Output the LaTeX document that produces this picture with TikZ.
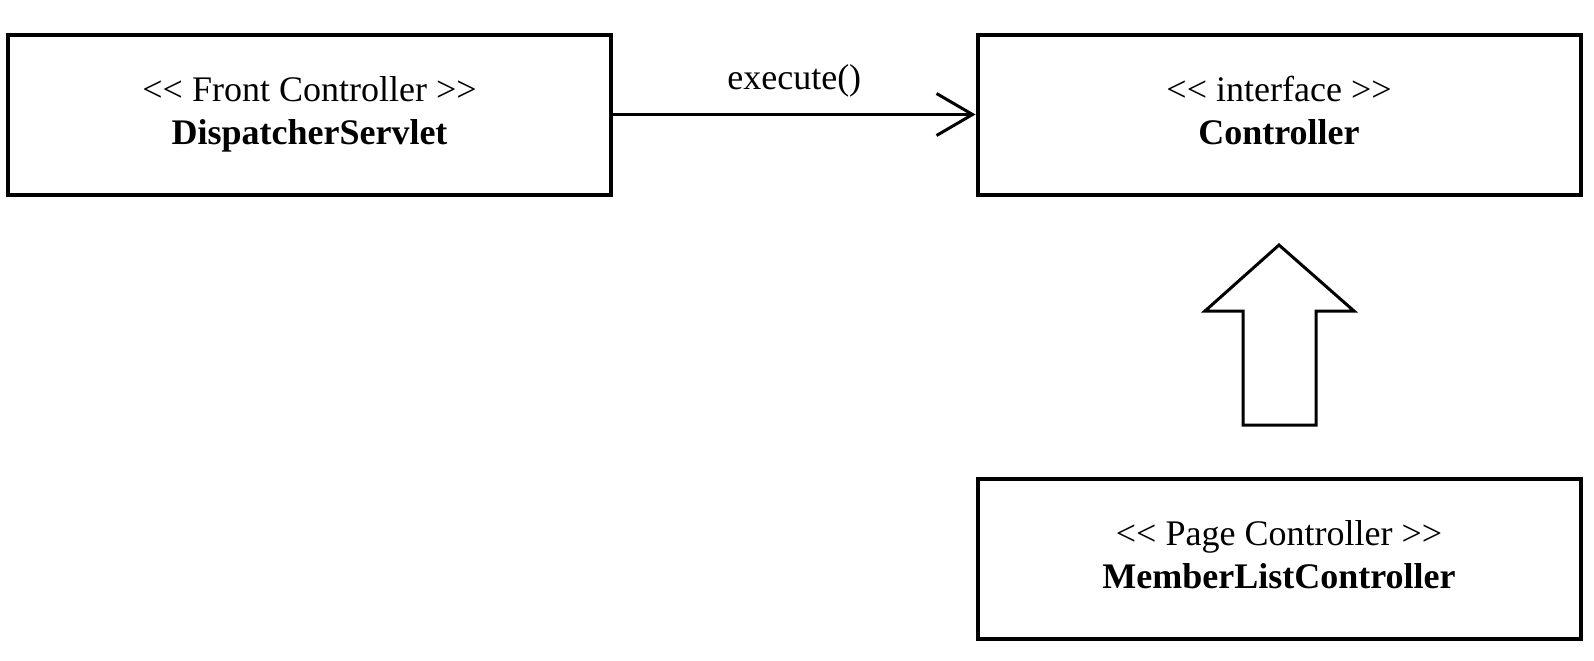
\documentclass[tikz,border=0pt]{standalone}
\usepackage{fontspec}
\setmainfont{Liberation Serif}
\usetikzlibrary{arrows.meta}

\newcommand{\stereo}[1]{<\kern0pt< #1 >\kern0pt>\strut}
\newcommand{\cname}[1]{\textbf{#1}\strut}
\tikzset{
  umlbox/.style={draw, line width=2pt, minimum width=301.5pt, minimum height=80pt,
    align=center, inner sep=0pt, font=\fontsize{18}{21.5}\selectfont},
  msg/.style={font=\fontsize{18}{21.5}\selectfont},
}

\begin{document}
\begin{tikzpicture}[x=0.5pt,y=-0.5pt]
\useasboundingbox (0,0) rectangle (1594,660);
\node[umlbox] (front) at (309.5,114.5) {\stereo{Front Controller}\\\cname{DispatcherServlet}};
\node[umlbox] (ctrl) at (1279,114.5) {\stereo{interface}\\\cname{Controller}};
\node[umlbox] (page) at (1279,558.5) {\stereo{Page Controller}\\\cname{MemberListController}};
\draw[line width=1.5pt, -{Straight Barb[length=18pt,width=21pt]}] (front) -- node[msg, midway, yshift=17pt] (exec) {execute()} (ctrl);
\coordinate (tip) at (1279,245);
\coordinate (hr) at (1354,311);
\coordinate (sr) at (1316,311);
\coordinate (br) at (1316,425);
\coordinate (bl) at (1243,425);
\coordinate (sl) at (1243,311);
\coordinate (hl) at (1205,311);
\draw[line width=1.5pt] (tip) -- (hr) -- (sr) -- (br) -- (bl) -- (sl) -- (hl) -- cycle;
\end{tikzpicture}
\end{document}
